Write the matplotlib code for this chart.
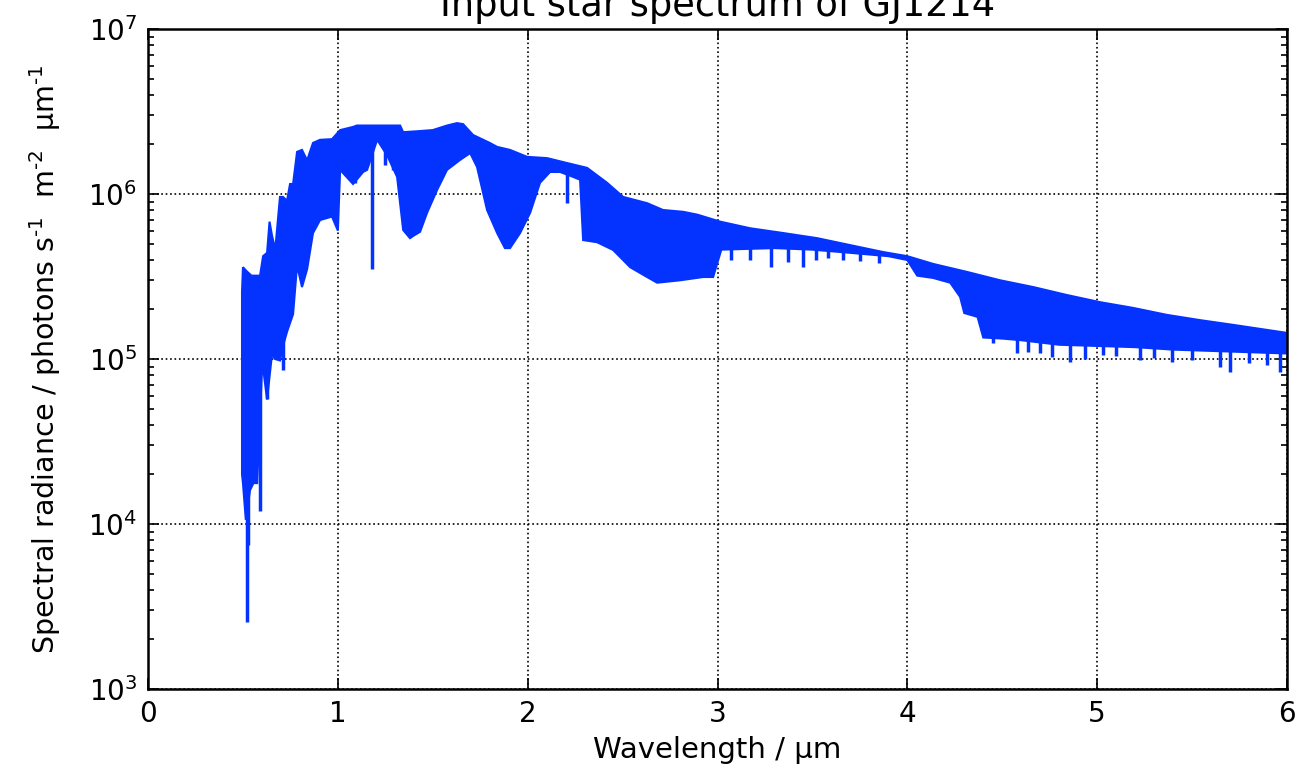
import numpy as np
import matplotlib
matplotlib.use('Agg')
import matplotlib.pyplot as plt

# upper envelope of the spectrum (wavelength in um, photons s-1 m-2 um-1)
wl_top = [0.495, 0.50, 0.52, 0.545, 0.59, 0.606, 0.627, 0.64, 0.653, 0.67,
          0.695, 0.711, 0.732, 0.748, 0.764, 0.785, 0.811, 0.838, 0.869, 0.906,
          0.969, 1.012, 1.08, 1.10, 1.30, 1.328, 1.344, 1.417, 1.50, 1.575,
          1.628, 1.66, 1.712, 1.80, 1.839, 1.907, 1.997, 2.102, 2.208, 2.313,
          2.418, 2.503, 2.629, 2.713, 2.819, 2.893, 3.014, 3.172, 3.346, 3.525,
          3.699, 3.872, 4.0, 4.136, 4.315, 4.489, 4.663, 4.842, 5.016, 5.19,
          5.369, 5.543, 5.717, 5.896, 6.0]
flux_top = [2.55e5, 3.6e5, 3.4e5, 3.2e5, 3.2e5, 4.2e5, 4.4e5, 6.8e5, 5.6e5, 4.6e5,
            9.6e5, 9.6e5, 9.1e5, 1.15e6, 1.15e6, 1.80e6, 1.85e6, 1.6e6, 2.04e6, 2.13e6,
            2.15e6, 2.44e6, 2.55e6, 2.6e6, 2.6e6, 2.6e6, 2.37e6, 2.4e6, 2.44e6, 2.6e6,
            2.69e6, 2.65e6, 2.28e6, 2.04e6, 1.93e6, 1.85e6, 1.68e6, 1.65e6, 1.54e6, 1.44e6,
            1.17e6, 9.6e5, 8.8e5, 8.0e5, 7.8e5, 7.5e5, 6.8e5, 6.2e5, 5.8e5, 5.4e5,
            4.9e5, 4.45e5, 4.2e5, 3.77e5, 3.37e5, 3.0e5, 2.73e5, 2.44e5, 2.21e5, 2.04e5,
            1.85e5, 1.72e5, 1.61e5, 1.50e5, 1.44e5]

# lower edge of the solid part of the line forest
wl_bot = [0.495, 0.50, 0.515, 0.537, 0.555, 0.575, 0.60, 0.606, 0.627, 0.653,
          0.669, 0.695, 0.711, 0.732, 0.764, 0.785, 0.811, 0.838, 0.869, 0.906,
          0.969, 1.0, 1.012, 1.08, 1.133, 1.154, 1.207, 1.259, 1.312, 1.344,
          1.38, 1.40, 1.433, 1.47, 1.523, 1.575, 1.644, 1.697, 1.733, 1.786,
          1.839, 1.88, 1.907, 1.96, 2.013, 2.065, 2.118, 2.171, 2.239, 2.276,
          2.292, 2.366, 2.45, 2.54, 2.629, 2.682, 2.803, 2.924, 2.977, 3.02,
          3.3, 3.5, 3.7, 3.9, 4.0, 4.052, 4.136, 4.226, 4.278, 4.30,
          4.37, 4.40, 4.5, 4.6, 4.8, 5.0, 5.2, 5.4, 5.6, 5.8, 6.0]
flux_bot = [2.0e4, 1.77e4, 1.06e4, 1.6e4, 1.77e4, 1.77e4, 8.6e4, 8.8e4, 5.7e4, 1.07e5,
            1.0e5, 9.8e4, 1.2e5, 1.46e5, 1.87e5, 3.7e5, 2.73e5, 3.5e5, 5.8e5, 6.95e5,
            7.3e5, 6.0e5, 1.4e6, 1.15e6, 1.36e6, 1.4e6, 2.13e6, 1.72e6, 1.27e6, 6.05e5,
            5.4e5, 5.6e5, 5.9e5, 7.7e5, 1.06e6, 1.4e6, 1.61e6, 1.77e6, 1.46e6, 8.0e5,
            5.8e5, 4.7e5, 4.7e5, 5.8e5, 7.7e5, 1.17e6, 1.36e6, 1.36e6, 1.27e6, 1.22e6,
            5.26e5, 5.1e5, 4.58e5, 3.6e5, 3.14e5, 2.9e5, 3.0e5, 3.14e5, 3.14e5, 4.6e5,
            4.7e5, 4.6e5, 4.4e5, 4.2e5, 3.98e5, 3.2e5, 3.1e5, 2.9e5, 2.38e5, 1.9e5,
            1.8e5, 1.35e5, 1.33e5, 1.3e5, 1.22e5, 1.2e5, 1.18e5, 1.14e5, 1.12e5, 1.1e5, 1.08e5]

# individual absorption lines reaching below the solid part
spike_wl = [0.52, 0.527, 0.59, 0.627, 0.711, 1.09, 1.18, 1.25, 1.29, 2.208,
            3.07, 3.17, 3.28, 3.37, 3.45, 3.52, 3.58, 3.66, 3.75, 3.85,
            4.45, 4.578, 4.636, 4.70, 4.763, 4.858, 4.937, 5.032, 5.10, 5.227,
            5.30, 5.395, 5.50, 5.648, 5.701, 5.80, 5.896, 5.964]
spike_lo = [2.55e3, 7.5e3, 1.2e4, 5.7e4, 8.6e4, 1.17e6, 3.5e5, 1.5e6, 1.4e6, 8.8e5,
            3.98e5, 3.98e5, 3.6e5, 3.85e5, 3.6e5, 4.0e5, 4.1e5, 4.0e5, 3.9e5, 3.8e5,
            1.25e5, 1.09e5, 1.1e5, 1.08e5, 1.03e5, 9.6e4, 1.0e5, 1.06e5, 1.05e5, 9.8e4,
            1.02e5, 9.6e4, 9.8e4, 8.9e4, 8.4e4, 9.4e4, 9.2e4, 8.3e4]
spike_hi = [2.0e5, 2.0e5, 2.0e5, 3.0e5, 5.0e5, 2.0e6, 2.0e6, 2.2e6, 2.2e6, 1.4e6,
            5.5e5, 5.5e5, 5.5e5, 5.0e5, 5.0e5, 5.0e5, 4.8e5, 4.6e5, 4.4e5, 4.3e5,
            1.6e5, 1.6e5, 1.6e5, 1.5e5, 1.5e5, 1.5e5, 1.5e5, 1.4e5, 1.4e5, 1.4e5,
            1.4e5, 1.3e5, 1.3e5, 1.3e5, 1.3e5, 1.2e5, 1.2e5, 1.2e5]

blue = '#0433ff'

fig = plt.figure(figsize=(13.01, 7.65), dpi=100)
ax = fig.add_axes([0.1138, 0.0993, 0.8754, 0.8628])

xs = np.concatenate([wl_top, wl_bot[::-1]])
ys = np.concatenate([flux_top, flux_bot[::-1]])
ax.fill(xs, ys, color=blue, lw=1.5, ec=blue, zorder=2)
ax.vlines(spike_wl, spike_lo, spike_hi, colors=blue, lw=2.5, zorder=2)

ax.set_yscale('log')
ax.set_xlim(0, 6)
ax.set_ylim(1e3, 1e7)

ax.grid(True, which='major', color='k', linestyle=':', linewidth=1.2)
ax.set_axisbelow(True)
ax.tick_params(which='both', direction='in', top=True, right=True,
               labelsize=20, width=1.2)
ax.tick_params(which='major', length=8, pad=8)
ax.tick_params(which='minor', length=4)
for s in ax.spines.values():
    s.set_linewidth(1.8)

ax.set_xlabel('Wavelength / µm', fontsize=21, labelpad=6)
ax.set_ylabel(r'Spectral radiance / photons s$^{\text{-1}}$  m$^{\text{-2}}$  µm$^{\text{-1}}$',
              fontsize=20.5, labelpad=18)
# title sits partly above the figure edge, as in the source image
ax.set_title('Input star spectrum of GJ1214', fontsize=26.5, pad=0,
             y=1.0197, va='baseline')

fig.savefig('out.png', dpi=100)
